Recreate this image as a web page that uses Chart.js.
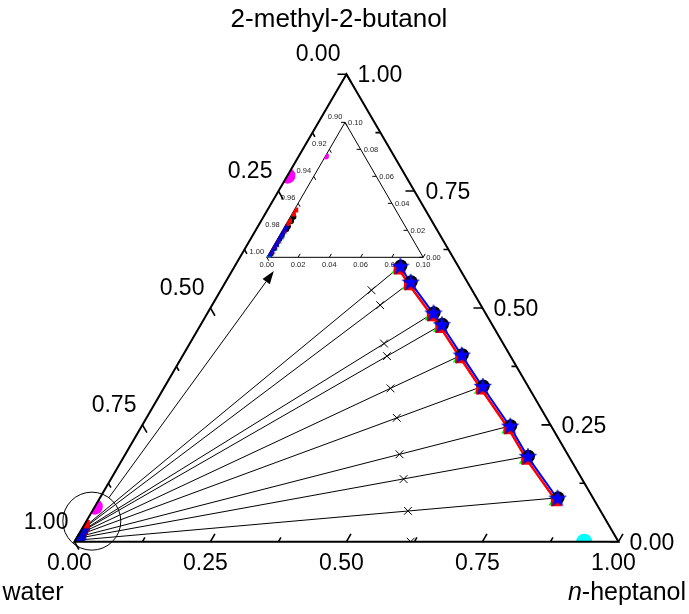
<!DOCTYPE html>
<html>
<head>
<meta charset="utf-8">
<script src="https://cdn.jsdelivr.net/npm/chart.js@4.4.1/dist/chart.umd.min.js"></script>
<style>
  html, body { margin: 0; padding: 0; background: #fff; }
  #wrap { width: 689px; height: 614px; }
</style>
</head>
<body>
<div id="wrap"><canvas id="chart"></canvas></div>
<script>
// mole fractions: hept = n-heptanol, buta = 2-methyl-2-butanol (water is the rest)
// experimental, heptanol-rich phase
const orgHept = [0.305, 0.341, 0.416, 0.444, 0.513, 0.585, 0.678, 0.743, 0.842];
const orgButa = [0.590, 0.556, 0.490, 0.465, 0.400, 0.333, 0.248, 0.183, 0.094];
// experimental, water-rich phase
const aqHept = [0.002, 0.002, 0.002, 0.002, 0.001, 0.001, 0.001, 0.001, 0.001];
const aqButa = [0.030, 0.027, 0.023, 0.021, 0.017, 0.014, 0.010, 0.007, 0.003];
// feeds (x)
const feedHept = [0.277, 0.309, 0.357, 0.376, 0.417, 0.460, 0.504, 0.538, 0.580, 0.618];
const feedButa = [0.538, 0.506, 0.424, 0.397, 0.328, 0.265, 0.187, 0.134, 0.066, 0.000];
// model 1 (red)
const redOrgHept = [0.305, 0.341, 0.416, 0.444, 0.513, 0.585, 0.678, 0.743, 0.842];
const redOrgButa = [0.583, 0.549, 0.483, 0.458, 0.393, 0.326, 0.241, 0.176, 0.087];
const redAqHept = [0.001, 0.001, 0.001, 0.001, 0.001, 0.001, 0.001, 0.001, 0.001];
const redAqButa = [0.035, 0.032, 0.027, 0.025, 0.020, 0.016, 0.012, 0.008, 0.004];
// model 2 (blue)
const blueOrgHept = [0.305, 0.341, 0.416, 0.444, 0.513, 0.585, 0.678, 0.743, 0.842];
const blueOrgButa = [0.588, 0.554, 0.488, 0.463, 0.398, 0.331, 0.246, 0.181, 0.092];
const blueAqHept = [0.001, 0.001, 0.001, 0.001, 0.001, 0.001, 0.001, 0.001, 0.001];
const blueAqButa = [0.022, 0.020, 0.017, 0.016, 0.013, 0.010, 0.008, 0.005, 0.002];
// model 3 (green)
const greenOrgHept = [0.302, 0.338, 0.413, 0.441, 0.510, 0.582, 0.675, 0.740, 0.839];
const greenOrgButa = [0.580, 0.546, 0.480, 0.455, 0.390, 0.323, 0.238, 0.173, 0.084];
const greenAqHept = [0.002, 0.002, 0.002, 0.002, 0.002, 0.002, 0.002, 0.002, 0.002];
const greenAqButa = [0.029, 0.026, 0.022, 0.020, 0.016, 0.013, 0.009, 0.006, 0.002];
// binary solubilities
const watHeptHept = [0.937, 0.0005];   // cyan
const watHeptButa = [0.000, 0.000];
const watButaHept = [0.000, 0.000];    // magenta
const watButaButa = [0.783, 0.075];

// axes
const mainTicks = [0, 0.125, 0.25, 0.375, 0.5, 0.625, 0.75, 0.875, 1];
const mainLabelValues = [0, 0.25, 0.5, 0.75, 1];
const mainLabels = ['0.00', '0.25', '0.50', '0.75', '1.00'];
const insetTicks = [0, 0.02, 0.04, 0.06, 0.08, 0.10];
const insetLabels = ['0.00', '0.02', '0.04', '0.06', '0.08', '0.10'];
const insetWaterLabels = ['1.00', '0.98', '0.96', '0.94', '0.92', '0.90'];

const SIN60 = Math.sqrt(3) / 2;
const tern = (h, b) => ({ x: h + b / 2, y: b * SIN60 });
// inset blows up the water corner (water 0.90 - 1.00)
const inset = { x0: 0.3537, y0: 0.5268, kx: 2.873, ky: 2.887, span: 0.1 };
const ternInset = (h, b) => {
  const t = tern(h, b);
  return { x: inset.x0 + inset.kx * t.x, y: inset.y0 + inset.ky * t.y };
};
const pts = (H, B, f) => H.map((h, i) => f(h, B[i]));

// annotation: circle around the water corner, arrow to the inset
const zoomCircle = { hept: 0.010, buta: 0.044, radius: 29 };
const arrowTip = { hept: 0.077, buta: 0.579 };

function starImage(r, color) {
  const c = document.createElement('canvas');
  const s = Math.ceil(r * 2) + 2;
  c.width = c.height = s;
  const g = c.getContext('2d');
  g.beginPath();
  for (let i = 0; i < 10; i++) {
    const a = -Math.PI / 2 + i * Math.PI / 5;
    const rr = i % 2 ? r * 0.4 : r;
    g.lineTo(s / 2 + rr * Math.cos(a), s / 2 + rr * Math.sin(a));
  }
  g.closePath();
  g.fillStyle = color;
  g.fill();
  g.strokeStyle = '#0000a0';
  g.lineWidth = 0.6;
  g.stroke();
  return c;
}
const bigStar = starImage(9, '#0000ff');
const smallStar = starImage(4, '#0000ff');

const px = (chart, t) => ({
  x: chart.scales.x.getPixelForValue(t.x),
  y: chart.scales.y.getPixelForValue(t.y)
});

function markers(f, clipTo, s) {
  const both = (o, a) => pts(o[0], o[1], f).concat(pts(a[0], a[1], f));
  return [
    { data: both([blueOrgHept, blueOrgButa], [blueAqHept, blueAqButa]), pointStyle: s.star, order: 1 },
    { data: both([redOrgHept, redOrgButa], [redAqHept, redAqButa]), pointStyle: 'rect', pointRadius: s.rect,
      backgroundColor: '#ff0000', order: 2 },
    { data: both([orgHept, orgButa], [aqHept, aqButa]), pointStyle: 'circle', pointRadius: s.circle,
      backgroundColor: '#000', order: 3 },
    { data: both([greenOrgHept, greenOrgButa], [greenAqHept, greenAqButa]), pointStyle: 'triangle',
      pointRadius: s.tri, backgroundColor: '#00ff00', order: 4 },
    { data: pts(watHeptHept, watHeptButa, f), pointStyle: 'circle', pointRadius: s.bin,
      backgroundColor: '#00ffff', order: 9 },
    { data: pts(watButaHept, watButaButa, f), pointStyle: 'circle', pointRadius: s.bin,
      backgroundColor: '#ff00ff', order: 9 }
  ].map(d => Object.assign({ clipTo, borderWidth: 0, showLine: false }, d));
}

const datasets = [];
// tie lines, incl. the water / n-heptanol binary along the base
const tieAqH = aqHept.concat([watHeptHept[1]]), tieAqB = aqButa.concat([watHeptButa[1]]);
const tieOrgH = orgHept.concat([watHeptHept[0]]), tieOrgB = orgButa.concat([watHeptButa[0]]);
tieAqH.forEach((h, i) => {
  datasets.push({
    data: [tern(h, tieAqB[i]), tern(tieOrgH[i], tieOrgB[i])],
    showLine: true, borderColor: '#000', borderWidth: 1, pointRadius: 0, order: 8, clipTo: 'main'
  });
});
datasets.push({
  data: pts(feedHept, feedButa, tern), pointStyle: 'crossRot', pointRadius: 5.5,
  borderColor: '#000', borderWidth: 1, showLine: false, order: 7, clipTo: 'main'
});
datasets.push({
  data: pts(redOrgHept, redOrgButa, tern), showLine: true, borderColor: '#ff0000', borderWidth: 2.5,
  pointRadius: 0, order: 6, clipTo: 'main'
});
datasets.push({
  data: pts(blueOrgHept, blueOrgButa, tern), showLine: true, borderColor: '#0000ff', borderWidth: 2,
  pointRadius: 0, order: 5, clipTo: 'main'
});
datasets.push(...markers(tern, 'main', { star: bigStar, rect: 7.5, circle: 6.5, tri: 6, bin: 8 }));
datasets.push(...markers(ternInset, 'inset', { star: smallStar, rect: 3.5, circle: 3, tri: 3, bin: 3.5 }));

function trianglePath(ctx, chart, f, span) {
  const c = [f(0, 0), f(span, 0), f(0, span)].map(t => px(chart, t));
  ctx.beginPath();
  ctx.moveTo(c[0].x, c[0].y);
  ctx.lineTo(c[1].x, c[1].y);
  ctx.lineTo(c[2].x, c[2].y);
  ctx.closePath();
}

const clipPlugin = {
  id: 'ternClip',
  beforeDatasetDraw(chart, args) {
    const ds = chart.data.datasets[args.index];
    if (!ds.clipTo) return;
    const ctx = chart.ctx;
    ctx.save();
    if (ds.clipTo === 'inset') trianglePath(ctx, chart, ternInset, inset.span);
    else trianglePath(ctx, chart, tern, 1);
    ctx.clip();
  },
  afterDatasetDraw(chart, args) {
    if (chart.data.datasets[args.index].clipTo) chart.ctx.restore();
  }
};

const FONT = '"Liberation Sans", Arial, sans-serif';
function text(ctx, s, x, y, align, size, color) {
  ctx.font = size + 'px ' + FONT;
  ctx.textAlign = align;
  ctx.textBaseline = 'alphabetic';
  ctx.fillStyle = color || '#000';
  ctx.fillText(s, x, y);
}
function seg(ctx, p, dx, dy, len) {
  ctx.moveTo(p.x, p.y);
  ctx.lineTo(p.x + dx * len, p.y + dy * len);
}

const framePlugin = {
  id: 'ternFrame',
  beforeDatasetsDraw(chart) {
    const ctx = chart.ctx;
    ctx.save();
    // titles
    text(ctx, '2-methyl-2-butanol', 339, 27, 'center', 26);
    text(ctx, 'water', 33, 600, 'center', 25);
    ctx.font = 'italic 25px ' + FONT;
    const nW = ctx.measureText('n').width;
    ctx.font = '25px ' + FONT;
    const restW = ctx.measureText('-heptanol').width;
    const x0 = 627 - (nW + restW) / 2;
    ctx.font = 'italic 25px ' + FONT;
    ctx.textAlign = 'left';
    ctx.fillStyle = '#000';
    ctx.fillText('n', x0, 600);
    ctx.font = '25px ' + FONT;
    ctx.fillText('-heptanol', x0 + nW, 600);

    // main tick labels
    mainLabelValues.forEach((v, i) => {
      const pb = px(chart, tern(v, 0));
      text(ctx, mainLabels[i], pb.x - 5, pb.y + 28, 'center', 23);
      const pr = px(chart, tern(1 - v, v));
      text(ctx, mainLabels[i], pr.x + 11, pr.y + 8, 'left', 23);
      const pl = px(chart, tern(0, 1 - v));
      text(ctx, mainLabels[i], pl.x - 6, pl.y - 13, 'right', 23);
    });

    // inset frame, ticks and labels
    ctx.strokeStyle = '#000';
    ctx.lineWidth = 1;
    trianglePath(ctx, chart, ternInset, inset.span);
    ctx.stroke();
    ctx.beginPath();
    insetTicks.forEach(v => {
      seg(ctx, px(chart, ternInset(v, 0)), 0.5, -SIN60, 4);
      seg(ctx, px(chart, ternInset(inset.span - v, v)), -1, 0, 4);
      seg(ctx, px(chart, ternInset(0, v)), 0.5, SIN60, 4);
    });
    ctx.stroke();
    insetTicks.forEach((v, i) => {
      const pb = px(chart, ternInset(v, 0));
      text(ctx, insetLabels[i], pb.x, pb.y + 10, 'center', 7.5, '#222');
      const pr = px(chart, ternInset(inset.span - v, v));
      text(ctx, insetLabels[i], pr.x + 3, pr.y + 2.5, 'left', 7.5, '#222');
      const pl = px(chart, ternInset(0, v));
      text(ctx, insetWaterLabels[i], pl.x - 10, pl.y - 3.5, 'center', 7.5, '#222');
    });

    // circle + arrow
    const c = px(chart, tern(zoomCircle.hept, zoomCircle.buta));
    ctx.beginPath();
    ctx.arc(c.x, c.y, zoomCircle.radius, 0, Math.PI * 2);
    ctx.stroke();
    const tip = px(chart, tern(arrowTip.hept, arrowTip.buta));
    const dx = tip.x - c.x, dy = tip.y - c.y, d = Math.hypot(dx, dy);
    const ux = dx / d, uy = dy / d;
    const headLen = 13, headW = 4.5;
    ctx.beginPath();
    ctx.moveTo(c.x + ux * zoomCircle.radius, c.y + uy * zoomCircle.radius);
    ctx.lineTo(tip.x - ux * headLen, tip.y - uy * headLen);
    ctx.stroke();
    ctx.beginPath();
    ctx.moveTo(tip.x, tip.y);
    ctx.lineTo(tip.x - ux * headLen - uy * headW, tip.y - uy * headLen + ux * headW);
    ctx.lineTo(tip.x - ux * headLen + uy * headW, tip.y - uy * headLen - ux * headW);
    ctx.closePath();
    ctx.fillStyle = '#000';
    ctx.fill();
    ctx.restore();
  },
  afterDatasetsDraw(chart) {
    const ctx = chart.ctx;
    ctx.save();
    ctx.strokeStyle = '#000';
    ctx.lineWidth = 2;
    ctx.lineJoin = 'miter';
    trianglePath(ctx, chart, tern, 1);
    ctx.stroke();
    ctx.lineWidth = 1.6;
    ctx.beginPath();
    mainTicks.forEach(v => {
      const len = mainLabelValues.includes(v) ? 9 : 5;
      seg(ctx, px(chart, tern(v, 0)), 0.5, -SIN60, len);
      seg(ctx, px(chart, tern(1 - v, v)), -1, 0, len);
      seg(ctx, px(chart, tern(0, 1 - v)), 0.5, SIN60, len);
    });
    ctx.stroke();
    ctx.restore();
  }
};

new Chart(document.getElementById('chart'), {
  type: 'scatter',
  data: { datasets },
  options: {
    responsive: true,
    maintainAspectRatio: false,
    animation: false,
    layout: { padding: 0 },
    plugins: { legend: { display: false }, tooltip: { enabled: false } },
    scales: {
      x: { type: 'linear', display: false, min: -68 / 557, max: 621 / 557 },
      y: { type: 'linear', display: false, min: -66 / 554.3, max: 548 / 554.3 }
    }
  },
  plugins: [clipPlugin, framePlugin]
});
</script>
</body>
</html>
